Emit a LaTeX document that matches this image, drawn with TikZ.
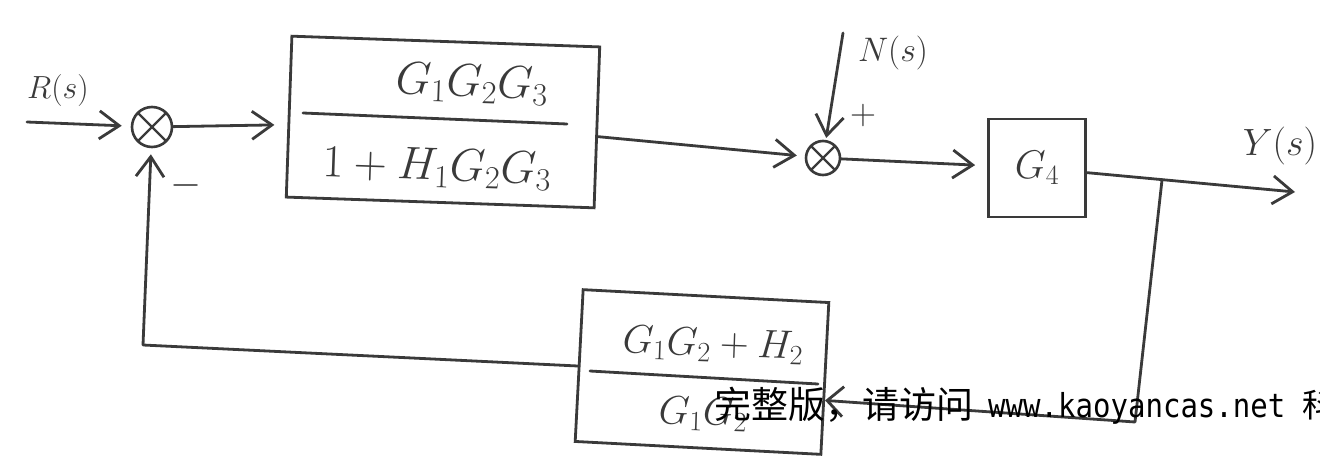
\RequirePackage{fix-cm}
\documentclass[tikz,border=0pt]{standalone}
\usepackage{fontspec}
\usetikzlibrary{arrows.meta}
\newfontfamily\cjkfont{Noto Sans CJK SC}
\newfontfamily\wmmono[FakeStretch=0.88]{DejaVu Sans Mono}
\definecolor{inkc}{HTML}{3A3A3A}
\begin{document}
\begin{tikzpicture}[x=1pt,y=-1pt,
  ink/.style={draw=inkc, line width=2.8pt, line cap=round, line join=round},
  arr/.style={ink, -{Straight Barb[length=20pt,width=28pt]}},
  smallarr/.style={ink, -{Straight Barb[length=16pt,width=30pt]}},
  box/.style={draw=inkc, line width=2.8pt, inner sep=0pt},
  lbl/.style={text=inkc, inner sep=0pt},
  sumnode/.style={circle, draw=inkc, line width=2.6pt, inner sep=0pt,
    path picture={\draw[inkc, line width=2.4pt]
      (path picture bounding box.north west) -- (path picture bounding box.south east)
      (path picture bounding box.south west) -- (path picture bounding box.north east);}}
]
\clip (0,0) rectangle (1320,461);
\fill[white] (0,0) rectangle (1320,461);

% input and first summing junction
\node[lbl, font=\fontsize{32}{36}\selectfont] (R) at (58,90) {$R(s)$};
\coordinate (in) at (27,122);
\node[sumnode, minimum size=40pt] (s1) at (152,127) {};
\node[lbl, font=\fontsize{40}{44}\selectfont] (minus) at (186,185) {$-$};
\draw[arr, shorten >=9pt] (in) -- (s1);

% forward block
\node[box, rotate=-2, minimum width=308pt, minimum height=161pt] (b1) at (443,122) {};
\node[lbl, rotate=-2, font=\fontsize{46}{50}\selectfont] (b1n) at (472,84) {$G_1G_2G_3$};
\coordinate (b1l) at (303,113);
\coordinate (b1r) at (567,124);
\draw[ink] (b1l) -- (b1r);
\node[lbl, rotate=-2, font=\fontsize{46}{50}\selectfont] (b1d) at (437,168) {$1+H_1G_2G_3$};
\draw[arr, shorten >=13pt] (s1) -- (b1);

% second summing junction with disturbance
\node[sumnode, minimum size=34pt] (s2) at (823,158) {};
\draw[arr, shorten >=8pt] (b1) -- (s2);
\coordinate (ntop) at (843,33);
\draw[arr, shorten >=2pt] (ntop) -- (s2);
\node[lbl, font=\fontsize{34}{38}\selectfont] (N) at (893,53) {$N(s)$};
\node[lbl, font=\fontsize{36}{40}\selectfont] (plus) at (863,115) {$+$};

% G4
\node[box, minimum width=97pt, minimum height=98pt, text=inkc, font=\fontsize{40}{44}\selectfont] (g4) at (1037,168) {$G_4$};
\draw[arr, shorten >=12pt] (s2) -- (g4);

% output
\coordinate (yend) at (1295,192);
\draw[arr] (g4) -- (yend);
\node[lbl, font=\fontsize{38}{42}\selectfont] (Y) at (1280,146) {$Y(s)$};

% feedback block
\node[box, rotate=-3, minimum width=246pt, minimum height=152pt] (fb) at (702,372) {};
\node[lbl, rotate=-2, font=\fontsize{40}{44}\selectfont] (fbn) at (713,345) {$G_1G_2+H_2$};
\coordinate (fbl) at (590,371);
\coordinate (fbr) at (818,384);
\draw[ink] (fbl) -- (fbr);
\node[lbl, rotate=-2, font=\fontsize{40}{44}\selectfont] (fbd) at (703,414) {$G_1G_2$};

% feedback path
\coordinate (br) at (1162,180);
\coordinate (bc) at (1135,422);
\draw[smallarr] (br) -- (bc) -- (fb.-10);
\coordinate (fc) at (143,345);
\draw[arr, shorten >=6pt] (fb) -- (fc) -- (s1);

% watermark
\node[anchor=base west, inner sep=0pt, font=\cjkfont\fontsize{37}{40}\selectfont] (wm1) at (714,418) {完整版，请访问};
\node[anchor=base west, inner sep=0pt, font=\wmmono\fontsize{33}{36}\selectfont] (wm2) at (988,417) {www.kaoyancas.net {\cjkfont 科}};
\end{tikzpicture}
\end{document}
